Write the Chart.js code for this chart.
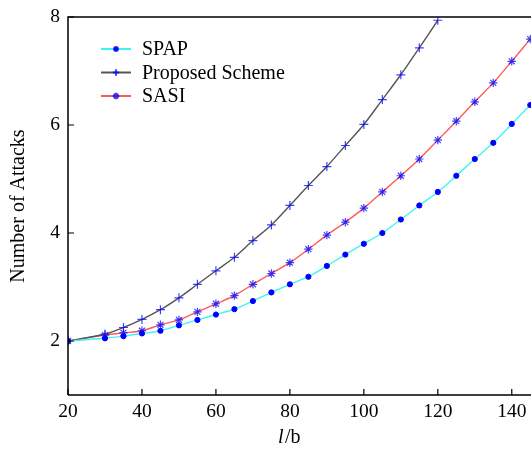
<!DOCTYPE html>
<html>
<head>
<meta charset="utf-8">
<script src="https://cdn.jsdelivr.net/npm/chart.js@4.4.0/dist/chart.umd.min.js"></script>
<style>
  html, body { margin: 0; padding: 0; background: #fff; }
  #wrap { width: 531px; height: 449px; }
</style>
</head>
<body>
<div id="wrap"><canvas id="chart"></canvas></div>
<script>
// data
const xValues      = [20, 30, 35, 40, 45, 50, 55, 60, 65, 70, 75, 80, 85, 90, 95, 100, 105, 110, 115, 120, 125, 130, 135, 140, 145];
const spapValues   = [2.00, 2.05, 2.09, 2.14, 2.19, 2.29, 2.39, 2.49, 2.59, 2.74, 2.90, 3.05, 3.19, 3.39, 3.60, 3.80, 4.00, 4.25, 4.51, 4.76, 5.06, 5.37, 5.67, 6.02, 6.37];
const propValues   = [2.00, 2.13, 2.25, 2.40, 2.58, 2.80, 3.05, 3.30, 3.55, 3.86, 4.15, 4.51, 4.88, 5.23, 5.62, 6.01, 6.47, 6.93, 7.43, 7.94];
const sasiValues   = [2.00, 2.11, 2.15, 2.19, 2.30, 2.39, 2.54, 2.69, 2.84, 3.05, 3.25, 3.45, 3.70, 3.96, 4.20, 4.46, 4.76, 5.06, 5.37, 5.72, 6.07, 6.43, 6.78, 7.18, 7.59];
const seriesNames  = ['SPAP', 'Proposed Scheme', 'SASI'];
const xTicks       = [20, 40, 60, 80, 100, 120, 140];
const yTicks       = [2, 4, 6, 8];

const FONT = '"Liberation Serif", "DejaVu Serif", serif';
const MARK = 'rgba(0,0,255,0.75)';

const pts = vals => vals.map((v, i) => ({ x: xValues[i], y: v }));

const styles = [
  { line: '#40f4f4', point: 'circle', radius: 2.6, fill: '#0000ff', stroke: '#0000ff', bw: 1 },
  { line: '#555555', point: 'cross',  radius: 4.5, fill: MARK, stroke: MARK, bw: 1.2 },
  { line: '#ff5a5a', point: 'star',   radius: 4.2, fill: MARK, stroke: MARK, bw: 1.2 }
];

const datasets = [spapValues, propValues, sasiValues].map((vals, i) => ({
  label: seriesNames[i],
  data: pts(vals),
  borderColor: styles[i].line,
  borderWidth: 1.4,
  tension: 0.3,
  pointStyle: styles[i].point,
  pointRadius: styles[i].radius,
  pointBackgroundColor: styles[i].fill,
  pointBorderColor: styles[i].stroke,
  pointBorderWidth: styles[i].bw
}));

// frame, inward ticks, legend and x title
const decor = {
  id: 'decor',
  afterDraw(chart) {
    const { ctx, chartArea: a, scales: { x, y } } = chart;
    ctx.save();
    ctx.strokeStyle = '#000';
    ctx.lineWidth = 1.5;
    ctx.beginPath();
    ctx.moveTo(a.left, a.bottom); ctx.lineTo(a.left, a.top); ctx.lineTo(a.right, a.top);
    ctx.moveTo(a.left, a.bottom); ctx.lineTo(a.right, a.bottom);
    ctx.stroke();
    ctx.lineWidth = 1.2;
    ctx.beginPath();
    xTicks.forEach(t => { const px = x.getPixelForValue(t); ctx.moveTo(px, a.bottom); ctx.lineTo(px, a.bottom - 6); });
    yTicks.forEach(t => { const py = y.getPixelForValue(t); ctx.moveTo(a.left, py); ctx.lineTo(a.left + 6, py); });
    ctx.stroke();

    // legend
    const lx = a.left + 33, ly = a.top + 32, gap = 23.5;
    datasets.forEach((d, i) => {
      const yy = ly + i * gap;
      ctx.strokeStyle = styles[i].line;
      ctx.lineWidth = 2;
      ctx.beginPath(); ctx.moveTo(lx, yy); ctx.lineTo(lx + 30, yy); ctx.stroke();
      ctx.fillStyle = '#0000ff';
      ctx.strokeStyle = MARK;
      Chart.helpers.drawPoint(ctx, {
        pointStyle: styles[i].point, radius: i === 0 ? 2 : 3.2, borderWidth: 1
      }, lx + 15, yy);
      ctx.fillStyle = '#000';
      ctx.font = '20px ' + FONT;
      ctx.textBaseline = 'middle';
      ctx.textAlign = 'left';
      ctx.fillText(d.label, lx + 41, yy + 1);
    });

    // x title: italic l, upright /b
    ctx.fillStyle = '#000';
    ctx.textBaseline = 'middle';
    ctx.textAlign = 'left';
    const cx = (a.left + a.right) / 2 - 11, cy = a.bottom + 43;
    ctx.font = 'italic 20px ' + FONT;
    const w1 = ctx.measureText('l').width;
    ctx.font = '20px ' + FONT;
    const w2 = ctx.measureText('/b').width;
    const sx = cx - (w1 + w2) / 2;
    ctx.font = 'italic 20px ' + FONT;
    ctx.fillText('l', sx, cy);
    ctx.font = '20px ' + FONT;
    ctx.fillText('/b', sx + w1 + 1.5, cy);
    ctx.restore();
  }
};

new Chart(document.getElementById('chart'), {
  type: 'line',
  data: { datasets },
  options: {
    responsive: true,
    maintainAspectRatio: false,
    animation: false,
    layout: { autoPadding: false, padding: { top: 17, right: 0, left: 0, bottom: 0 } },
    plugins: { legend: { display: false }, tooltip: { enabled: false } },
    scales: {
      x: {
        type: 'linear',
        min: 20, max: 145.2,
        afterBuildTicks: s => { s.ticks = xTicks.map(v => ({ value: v })); },
        afterFit: s => { s.height = 54; s.paddingLeft = 0; s.paddingRight = 0; },
        grid: { display: false, drawTicks: false },
        border: { display: false },
        ticks: { font: { family: FONT, size: 19.5 }, color: '#000', padding: 5, maxRotation: 0 }
      },
      y: {
        min: 1, max: 8,
        afterBuildTicks: s => { s.ticks = yTicks.map(v => ({ value: v })); },
        afterFit: s => { s.width = 68; s.paddingTop = 0; s.paddingBottom = 0; },
        grid: { display: false, drawTicks: false },
        border: { display: false },
        ticks: { font: { family: FONT, size: 19.5 }, color: '#000', padding: 8 },
        title: { display: true, text: 'Number of Attacks', font: { family: FONT, size: 20 }, color: '#000', padding: { top: 7, bottom: 0 } }
      }
    }
  },
  plugins: [decor]
});
</script>
</body>
</html>
